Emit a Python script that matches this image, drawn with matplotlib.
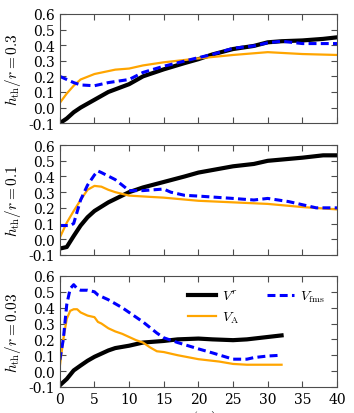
import numpy as np
import matplotlib
matplotlib.use("Agg")
import matplotlib.pyplot as plt

plt.rcParams['font.family'] = 'DejaVu Serif'
plt.rcParams['mathtext.fontset'] = 'cm'

# panel 1: h_th/r = 0.3
x1_vr = [0, 1, 2, 3, 5, 7, 10, 12, 15, 18, 20, 22, 25, 28, 30, 32, 35, 38, 40]
y1_vr = [-0.1, -0.07, -0.03, 0.0, 0.05, 0.1, 0.15, 0.2, 0.245, 0.285, 0.31, 0.34, 0.375, 0.395, 0.418, 0.425, 0.43, 0.44, 0.45]
x1_va = [0, 1, 2, 3, 5, 8, 10, 12, 15, 20, 25, 30, 35, 40]
y1_va = [0.03, 0.09, 0.14, 0.18, 0.215, 0.243, 0.25, 0.27, 0.29, 0.315, 0.337, 0.355, 0.343, 0.337]
x1_vf = [0, 2, 3, 5, 7, 10, 12, 15, 20, 22, 25, 28, 30, 32, 35, 40]
y1_vf = [0.2, 0.16, 0.145, 0.14, 0.16, 0.18, 0.225, 0.265, 0.32, 0.34, 0.38, 0.395, 0.415, 0.425, 0.41, 0.41]

# panel 2: h_th/r = 0.1
x2_vr = [0, 1, 2, 3, 4, 5, 7, 10, 12, 15, 18, 20, 25, 28, 30, 35, 38, 40]
y2_vr = [-0.06, -0.05, 0.02, 0.087, 0.14, 0.18, 0.235, 0.3, 0.33, 0.365, 0.4, 0.425, 0.465, 0.48, 0.5, 0.52, 0.535, 0.535]
x2_va = [0, 1, 2, 3, 4, 5, 6, 7, 8, 10, 13, 15, 20, 25, 30, 35, 40]
y2_va = [0.01, 0.105, 0.18, 0.25, 0.315, 0.34, 0.335, 0.315, 0.30, 0.278, 0.27, 0.265, 0.245, 0.235, 0.225, 0.205, 0.19]
x2_vf = [0, 1.5, 2, 3, 4, 5, 5.5, 6, 8, 10, 12, 15, 16, 18, 20, 25, 28, 30, 33, 37, 40]
y2_vf = [0.087, 0.087, 0.1, 0.25, 0.345, 0.41, 0.435, 0.425, 0.38, 0.31, 0.31, 0.32, 0.30, 0.28, 0.275, 0.26, 0.25, 0.26, 0.24, 0.2, 0.2]

# panel 3: h_th/r = 0.03
x3_vr = [0, 1, 2, 3, 4, 5, 6, 7, 8, 10, 12, 15, 17, 20, 22, 25, 27, 30, 32]
y3_vr = [-0.09, -0.05, 0.004, 0.035, 0.065, 0.09, 0.11, 0.13, 0.145, 0.16, 0.18, 0.19, 0.2, 0.205, 0.2, 0.195, 0.2, 0.215, 0.225]
x3_va = [0, 0.5, 1, 1.5, 2, 2.5, 3, 4, 5, 5.5, 6, 7, 8, 9, 10, 11, 12, 13, 14, 15, 17, 20, 23, 25, 27, 30, 32]
y3_va = [0.03, 0.2, 0.33, 0.38, 0.39, 0.39, 0.37, 0.35, 0.34, 0.31, 0.30, 0.27, 0.25, 0.235, 0.215, 0.195, 0.18, 0.15, 0.125, 0.12, 0.10, 0.075, 0.06, 0.045, 0.04, 0.04, 0.04]
x3_vf = [0, 0.5, 1, 1.5, 2, 2.5, 3, 4, 5, 5.5, 7, 9, 10, 12, 14, 15, 17, 20, 22, 25, 27, 28, 30, 32]
y3_vf = [0.07, 0.2, 0.42, 0.52, 0.545, 0.52, 0.51, 0.51, 0.50, 0.48, 0.45, 0.40, 0.37, 0.31, 0.24, 0.21, 0.18, 0.14, 0.115, 0.075, 0.075, 0.085, 0.095, 0.10]

labels = [r'$h_{\rm th}/r = 0.3$', r'$h_{\rm th}/r = 0.1$', r'$h_{\rm th}/r = 0.03$']
panels = [(x1_vr, y1_vr, x1_va, y1_va, x1_vf, y1_vf),
          (x2_vr, y2_vr, x2_va, y2_va, x2_vf, y2_vf),
          (x3_vr, y3_vr, x3_va, y3_va, x3_vf, y3_vf)]
boxes = [(0.964, 0.700), (0.647, 0.382), (0.331, 0.063)]

fig = plt.figure(figsize=(3.54, 4.14), dpi=100)
for i, (pan, box, lab) in enumerate(zip(panels, boxes, labels)):
    top, bot = box
    ax = fig.add_axes([0.169, bot, 0.952 - 0.169, top - bot])
    xr, yr, xa, ya, xf, yf = pan
    ax.plot(xr, yr, color='black', lw=3, label=r'$V^r$')
    ax.plot(xa, ya, color='orange', lw=1.6, label=r'$V_{\rm A}$')
    ax.plot(xf, yf, color='blue', lw=2.2, ls=(0, (2.6, 1.4)), label=r'$V_{\rm fms}$')
    ax.set_xlim(0, 40)
    ax.set_ylim(-0.1, 0.6)
    ax.set_xticks(np.arange(0, 41, 5))
    ax.set_yticks(np.arange(-0.1, 0.61, 0.1))
    ax.set_yticklabels(['%.1f' % v for v in np.arange(-0.1, 0.61, 0.1)])
    ax.tick_params(direction='in', top=True, right=True, labelsize=10, length=4, color='0.3')
    for s in ax.spines.values():
        s.set_color('0.3')
    ax.set_ylabel(lab, fontsize=11)
    if i < 2:
        ax.set_xticklabels([])
    else:
        ax.set_xlabel(r'$z\ (r_g)$', fontsize=11, labelpad=2)
        ax.legend(loc='upper right', ncol=2, frameon=False, fontsize=10,
                  handlelength=2.0, handletextpad=0.4, columnspacing=2.0,
                  bbox_to_anchor=(1.0, 1.0))

fig.savefig('out.png', dpi=100)
